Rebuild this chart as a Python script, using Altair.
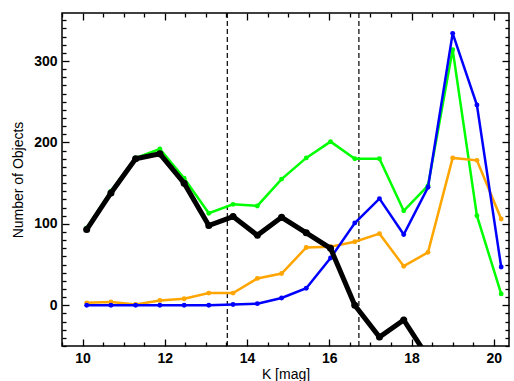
import altair as alt
import pandas as pd

# ---- data ----
k_mag = [10.10, 10.69, 11.29, 11.88, 12.47, 13.07, 13.66, 14.25, 14.84,
         15.44, 16.03, 16.62, 17.22, 17.81, 18.40, 19.00, 19.59, 20.18]
green_counts = [95, 140, 181, 192, 156, 113, 124, 122, 155,
                181, 201, 180, 180, 116, 147, 314, 110, 14]
orange_counts = [3, 4, 1, 6, 8, 15, 15, 33, 39,
                 71, 72, 78, 88, 48, 65, 181, 178, 106]
blue_counts = [0, 0, 0, 0, 0, 0, 1, 2, 9,
               21, 58, 101, 131, 87, 145, 334, 246, 47]
black_counts = [93, 138, 180, 186, 150, 98, 109, 86, 108,
                89, 70, 0, -39, -18, -64]
dashed_k = [13.52, 16.72]

x_major = [10, 12, 14, 16, 18, 20]
x_minor = [9.5, 10.5, 11, 11.5, 12.5, 13, 13.5, 14.5, 15, 15.5,
           16.5, 17, 17.5, 18.5, 19, 19.5]
y_major = [0, 100, 200, 300]
y_minor = [-50, -40, -30, -20, -10, 10, 20, 30, 40, 50, 60, 70, 80, 90,
           110, 120, 130, 140, 150, 160, 170, 180, 190,
           210, 220, 230, 240, 250, 260, 270, 280, 290,
           310, 320, 330, 340, 350]

x_domain = [9.5, 20.37]
y_domain = [-50, 359]

FONT = "Liberation Sans"
MAJ, MIN = 7, 4

xscale = alt.Scale(domain=x_domain, nice=False, zero=False)
yscale = alt.Scale(domain=y_domain, nice=False, zero=False)


def axis(orient, values, size, labels=False, title=None, **kw):
    opts = dict(orient=orient, values=values, tickSize=size, offset=-size,
                labels=labels, domain=False, grid=False, tickColor="black",
                tickWidth=1.3, title=title)
    if labels:
        opts.update(labelFont=FONT, labelFontSize=14, labelFontWeight="bold",
                    labelColor="black", labelPadding=5)
    if title:
        opts.update(titleFont=FONT, titleFontSize=14, titleFontWeight="normal",
                    titleColor="black")
    opts.update(kw)
    return alt.Axis(**opts)


axes = [
    (axis("bottom", x_major, MAJ, labels=True, title="K [mag]", titlePadding=2,
          format="d", labelFlush=False),
     axis("left", y_major, MAJ, labels=True, title="Number of Objects",
          titlePadding=8, format="d")),
    (axis("bottom", x_minor, MIN), axis("left", y_minor, MIN)),
    (axis("top", x_major, MAJ), axis("right", y_major, MAJ)),
    (axis("top", x_minor, MIN), axis("right", y_minor, MIN)),
]

series = [
    (green_counts, "#00ff00", 2.5, 24),
    (orange_counts, "#ffa500", 2.5, 24),
    (blue_counts, "#0000ff", 2.5, 24),
    (black_counts, "#000000", 5, 50),
]

layers = []
for (vals, color, width, psize), (xa, ya) in zip(series, axes):
    df = pd.DataFrame({"K": k_mag[:len(vals)], "N": vals})
    base = alt.Chart(df)
    layers.append(base.mark_line(color=color, strokeWidth=width, clip=True).encode(
        x=alt.X("K:Q", scale=xscale, axis=xa),
        y=alt.Y("N:Q", scale=yscale, axis=ya)))
    layers.append(base.mark_circle(color=color, size=psize, opacity=1, clip=True).encode(
        x=alt.X("K:Q", scale=xscale, axis=None),
        y=alt.Y("N:Q", scale=yscale, axis=None)))

rules = alt.Chart(pd.DataFrame({"K": dashed_k})).mark_rule(
    color="black", strokeWidth=1.2, strokeDash=[5, 3]).encode(
    x=alt.X("K:Q", scale=xscale, axis=None))

chart = alt.layer(rules, *layers).resolve_axis(x="independent", y="independent").properties(
    width=447, height=333,
    padding={"left": 62, "top": 13, "right": 5, "bottom": 35},
    autosize="none",
    background="white",
).configure_view(stroke="black", strokeWidth=1.5)

chart.save("out.html", embed_options={"renderer": "svg", "actions": False})
